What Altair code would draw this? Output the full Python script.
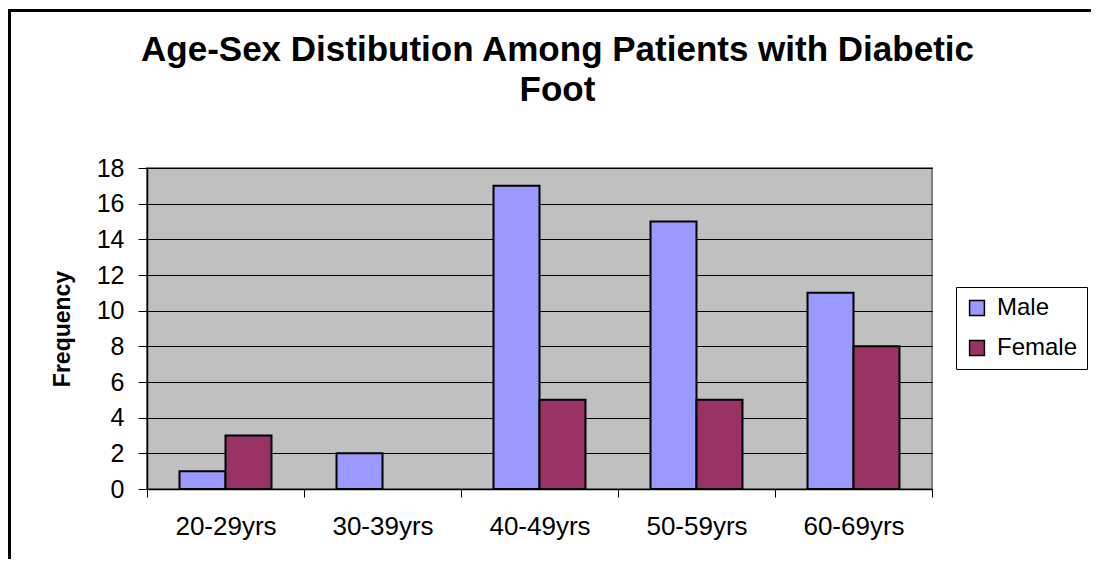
import altair as alt
import pandas as pd

age_groups = ["20-29yrs", "30-39yrs", "40-49yrs", "50-59yrs", "60-69yrs"]
male = [1, 2, 17, 15, 11]
female = [3, 0, 5, 5, 8]
series = ["Male", "Female"]
colors = ["#9999FF", "#993366"]

rows = []
for g, m, f in zip(age_groups, male, female):
    rows.append({"age": g, "sex": "Male", "freq": m})
    rows.append({"age": g, "sex": "Female", "freq": f})
df = pd.DataFrame(rows)

W, H = 785, 321
PL, PT, PR, PB = 139, 160, 159, 70
FONT = "Liberation Sans"

bars = alt.Chart(df).transform_filter("datum.freq > 0").mark_bar(
    stroke="black", strokeWidth=2
).encode(
    x=alt.X("age:N", sort=age_groups, title=None,
            scale=alt.Scale(paddingInner=0, paddingOuter=0),
            axis=alt.Axis(labelAngle=0, tickBand="extent", tickSize=8, tickColor="black",
                          domainColor="black", domainWidth=1.5, labelFontSize=26,
                          labelFont=FONT, labelColor="black", labelPadding=16, grid=False)),
    xOffset=alt.XOffset("sex:N", sort=series,
                        scale=alt.Scale(domain=series, paddingInner=0, paddingOuter=0.707)),
    y=alt.Y("freq:Q", title="Frequency",
            scale=alt.Scale(domain=[0, 18], nice=False),
            axis=alt.Axis(values=list(range(0, 19, 2)), tickSize=9, tickColor="black",
                          domainColor="black", domainWidth=1.5, labelFontSize=25,
                          labelFont=FONT, labelColor="black", labelPadding=14,
                          gridColor="black", gridWidth=1, titleFont=FONT,
                          titleFontSize=23, titleFontWeight="bold", titleColor="black",
                          titlePadding=22)),
    color=alt.Color("sex:N", sort=series,
                    scale=alt.Scale(domain=series, range=colors),
                    legend=alt.Legend(title=None, orient="none", legendX=809, legendY=119,
                                      strokeColor="black", fillColor="white",
                                      padding=9, symbolType="square", symbolSize=220,
                                      symbolStrokeColor="black", symbolStrokeWidth=1.5,
                                      labelFontSize=24, labelFont=FONT, labelColor="black",
                                      rowPadding=16, labelOffset=8, symbolOpacity=1)),
)

border_left = alt.Chart(df).mark_rule(color="black", strokeWidth=3).encode(
    x=alt.value(-138), y=alt.value(-158), y2=alt.value(H + PB)
)
border_top = alt.Chart(df).mark_rule(color="black", strokeWidth=3).encode(
    x=alt.value(-139), x2=alt.value(W + PR), y=alt.value(-157.5)
)

chart = alt.layer(bars, border_left, border_top).properties(
    width=W, height=H,
    autosize=alt.AutoSizeParams(type="none"),
    padding={"left": PL, "top": PT, "right": PR, "bottom": PB},
    background="white",
    title=alt.TitleParams(
        ["Age-Sex Distibution Among Patients with Diabetic", "Foot"],
        font=FONT, fontSize=35, fontWeight="bold", color="black",
        anchor="middle", frame="group", dx=18, lineHeight=40, offset=-99,
    ),
).configure_view(
    fill="#C0C0C0", stroke="#808080", strokeWidth=2
)

chart.save("out.html", embed_options={"renderer": "svg", "actions": False})
